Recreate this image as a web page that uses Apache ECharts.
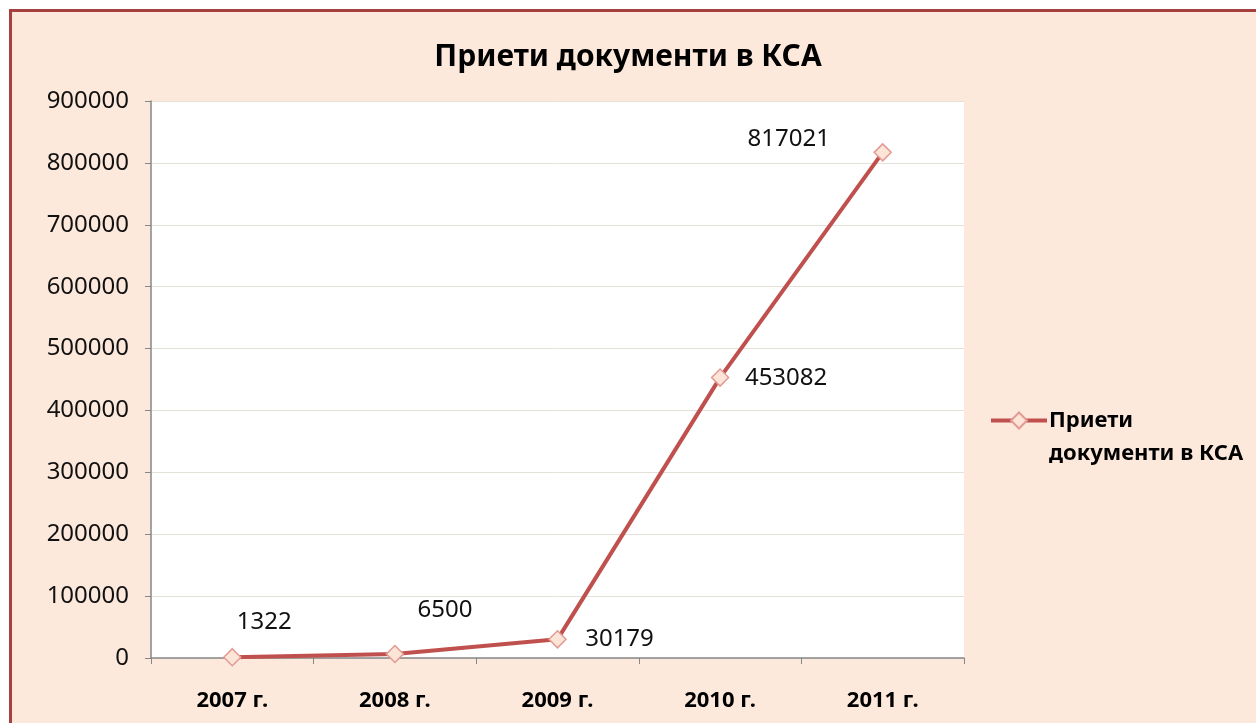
<!DOCTYPE html>
<html>
<head>
<meta charset="utf-8">
<script src="https://cdn.jsdelivr.net/npm/echarts@6/dist/echarts.min.js"></script>
<style>
  body { margin: 0; background: #fff; overflow: hidden; }
  #frame {
    position: absolute; left: 9px; top: 9px; width: 1280px; height: 740px;
    background: #FCE9DC; border: 3px solid #A5423F;
  }
  #chart { position: absolute; left: 0; top: 0; width: 1256px; height: 723px; }
</style>
</head>
<body>
<div id="frame"></div>
<div id="chart"></div>
<script>
const seriesName = "Приети документи в КСА";
const years = ["2007 г.", "2008 г.", "2009 г.", "2010 г.", "2011 г."];
const accepted = [1322, 6500, 30179, 453082, 817021];
const yTicks = { min: 0, max: 900000, interval: 100000 };

// where each value label sits relative to its point
const labelOffsets = [[32, -35], [50, -44], [62, 0], [66, 1], [-94, -13]];

const FONT = "Noto Sans";
const chart = echarts.init(document.getElementById("chart"));

chart.setOption({
  backgroundColor: "transparent",
  textStyle: { fontFamily: FONT },
  title: {
    text: seriesName,
    left: "center",
    top: 37,
    textStyle: { fontSize: 30, fontWeight: "bold", color: "#000", fontFamily: FONT },
  },
  legend: {
    orient: "vertical",
    left: 984,
    top: 366,
    itemWidth: 56,
    itemHeight: 20,
    itemGap: 6,
    // empty first line so the icon sits level with "Приети"
    formatter: () => "\nПриети\nдокументи в КСА",
    lineStyle: { width: 4 },
    textStyle: { fontSize: 22, fontWeight: "bold", color: "#000", lineHeight: 33, fontFamily: FONT, padding: [0, 0, 0, -3] },
  },
  grid: {
    left: 151, top: 101, width: 813, height: 557,
    show: true, backgroundColor: "#fff", borderWidth: 0,
  },
  xAxis: {
    type: "category",
    data: years,
    boundaryGap: true,
    axisLine: { lineStyle: { color: "#868686", width: 1.5 } },
    axisTick: { show: true, length: 6, lineStyle: { color: "#868686" } },
    axisLabel: { fontSize: 22, fontWeight: "bold", color: "#000", margin: 32 },
  },
  yAxis: {
    type: "value",
    min: yTicks.min,
    max: yTicks.max,
    interval: yTicks.interval,
    axisLine: { show: true, lineStyle: { color: "#868686", width: 1.5 } },
    axisTick: { show: true, length: 6, lineStyle: { color: "#868686" } },
    splitLine: { lineStyle: { color: "#E4E1D8" } },
    axisLabel: { fontSize: 24, color: "#111", margin: 22, formatter: (v) => String(v) },
  },
  series: [
    {
      name: seriesName,
      type: "line",
      data: accepted.map((v, i) => ({
        value: v,
        label: { offset: labelOffsets[i] },
      })),
      symbol: "diamond",
      symbolSize: 17,
      lineStyle: { color: "#C0504D", width: 4 },
      itemStyle: { color: "#FCE4D6", borderColor: "#E39A94", borderWidth: 1.5 },
      label: {
        show: true,
        position: "inside",
        fontSize: 24,
        color: "#111",
      },
      z: 3,
    },
  ],
});
</script>
</body>
</html>
